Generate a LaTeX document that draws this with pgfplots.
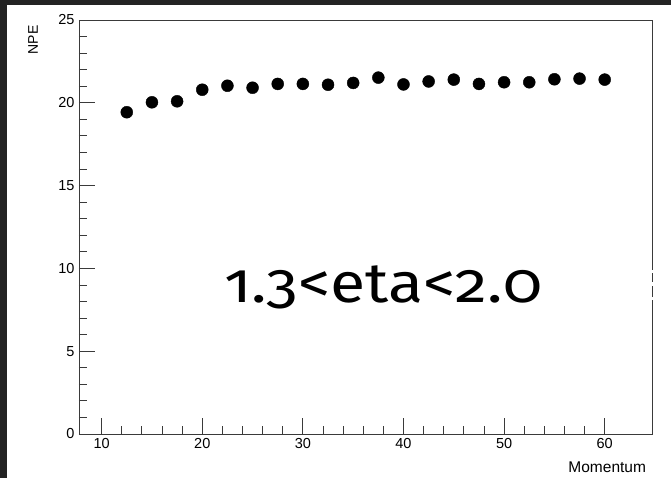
\documentclass[border=0pt]{standalone}
\usepackage{pgfplots}
\pgfplotsset{compat=1.18}
\usepackage{fontspec}
\setmainfont{Liberation Sans}
\newfontfamily\slidefont[Numbers=OldStyle, FakeStretch=1.15]{Fira Sans}
\definecolor{slidebg}{HTML}{232323}
\definecolor{axisgray}{HTML}{3a3a3a}

\begin{document}
\begin{tikzpicture}[x=1pt,y=1pt]
  % slide backdrop and white canvas
  \fill[slidebg] (-79,-44) rectangle (592,434);
  \fill[white] (-72,-44) rectangle (592,429);
  \begin{axis}[
    at={(0,0)}, anchor=south west,
    scale only axis, width=573.5pt, height=414pt,
    xmin=7.75, xmax=64.75, ymin=0, ymax=25,
    xtick={10,20,...,60}, ytick={0,5,...,25},
    minor x tick num=4, minor y tick num=4,
    xtick pos=bottom, ytick pos=left,
    tick align=inside,
    major tick length=16pt, minor tick length=8pt,
    axis line style={axisgray, line width=0.9pt},
    every tick/.style={axisgray, line width=0.9pt},
    tick label style={font=\fontsize{14.5}{14.5}\selectfont},
    /pgf/number format/assume math mode=true,
    xticklabel style={yshift=-1pt},
    yticklabel style={xshift=-1pt},
    clip=false,
  ]
    \addplot[only marks, mark=*, mark size=6pt, black] coordinates {
      (12.5,19.43) (15,20.03) (17.5,20.09) (20,20.79) (22.5,21.03)
      (25,20.91) (27.5,21.14) (30,21.14) (32.5,21.09) (35,21.20)
      (37.5,21.52) (40,21.11) (42.5,21.29) (45,21.40) (47.5,21.14)
      (50,21.24) (52.5,21.24) (55,21.42) (57.5,21.46) (60,21.40)
    };
    % axis titles
    \node[rotate=90, anchor=center, font=\fontsize{14}{14}\selectfont]
      at (axis cs:3.18,23.79) {NPE};
    \node[anchor=north east, font=\fontsize{15.5}{15.5}\selectfont]
      at (axis cs:64.75,0) [yshift=-24pt, xshift=-3pt] {Momentum};
    % broken segment of the right frame
    \draw[white, line width=2pt] (axis cs:64.75,8.09) -- (axis cs:64.75,9.90);
    \draw[axisgray, line width=0.9pt] (axis cs:64.75,9.18) -- (axis cs:64.75,9.72);
    \draw[axisgray, line width=0.9pt] (axis cs:64.75,8.27) -- (axis cs:64.75,8.94);
    % pseudorapidity range
    \node[anchor=base west, inner sep=0pt, font=\slidefont\fontsize{56}{56}\selectfont]
      at (axis cs:22.16,7.97) {1.3<eta<2.0};
  \end{axis}
\end{tikzpicture}
\end{document}
